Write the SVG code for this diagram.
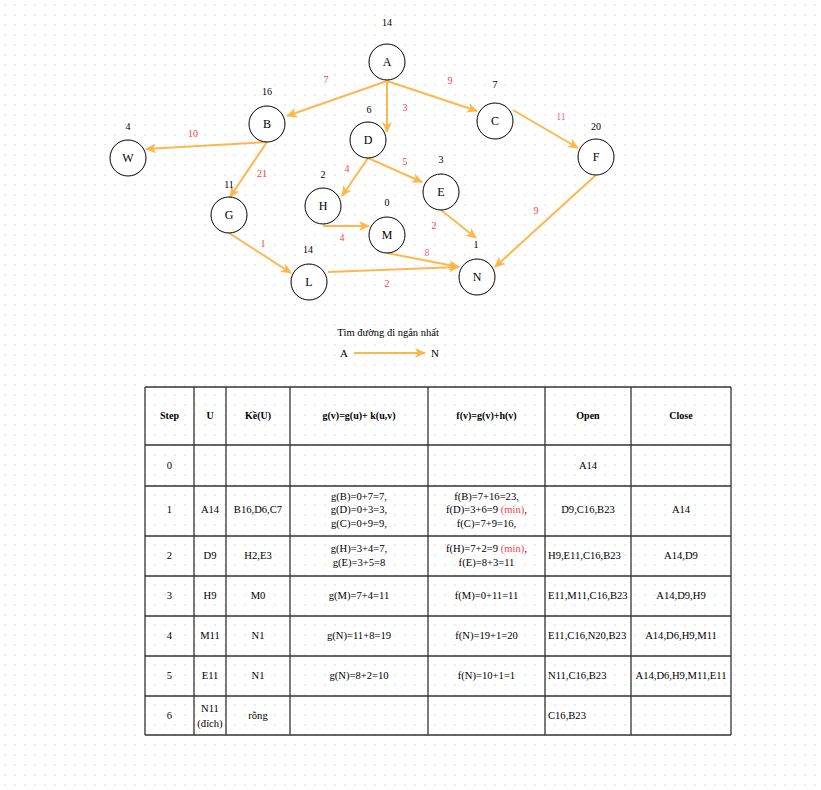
<svg xmlns="http://www.w3.org/2000/svg" width="821" height="790" viewBox="0 0 821 790">
<style>
text{font-family:"Liberation Serif","Times New Roman",serif;dominant-baseline:central;text-anchor:middle;}
.node circle{fill:#fff;stroke:#000;stroke-width:1;}
.node text{font-size:12px;fill:#000;}
.h{font-size:10px;fill:#000;}
.w{font-size:10px;fill:#ff3b3b;}
.edges path{fill:none;stroke:#ffb74d;stroke-width:2;}
.tb line{stroke:#333;stroke-width:1.3;}
.tb text{font-size:10.6px;fill:#000;}
.tb .hd{font-weight:bold;}
.tb .l{text-anchor:start;}
.red{fill:#ff3b3b;}
</style>
<defs>
<pattern id="grid" width="10" height="10" patternUnits="userSpaceOnUse">
<path d="M5,4 V6 M4,5 H6" stroke="#e4e4e4" stroke-width="1"/>
</pattern>
<marker id="arr" markerUnits="userSpaceOnUse" markerWidth="12" markerHeight="10" refX="10" refY="5" orient="auto">
<path d="M0,0 L11,5 L0,10 L3,5 Z" fill="#ffb74d"/>
</marker>
</defs>
<rect width="821" height="790" fill="#fff"/>
<rect width="821" height="790" fill="url(#grid)"/>

<g id="connectors" class="edges">
<path d="M387,81 L287,116" marker-end="url(#arr)"/>
<path d="M387,81 L387,132" marker-end="url(#arr)"/>
<path d="M387,81 L477,111" marker-end="url(#arr)"/>
<path d="M513,110 L578,148" marker-end="url(#arr)"/>
<path d="M267,142 L146,149" marker-end="url(#arr)"/>
<path d="M267,142 L230,197" marker-end="url(#arr)"/>
<path d="M368,158 L342,196" marker-end="url(#arr)"/>
<path d="M368,158 L422,182" marker-end="url(#arr)"/>
<path d="M441,210 L476,238" marker-end="url(#arr)"/>
<path d="M323,226 L369,226" marker-end="url(#arr)"/>
<path d="M387,253 L459,267" marker-end="url(#arr)"/>
<path d="M328,272 L459,267" marker-end="url(#arr)"/>
<path d="M596,175 L495,267" marker-end="url(#arr)"/>
<path d="M229,233 L291,273" marker-end="url(#arr)"/>
<path d="M354,353 L425,353" marker-end="url(#arr)"/>
</g>

<g id="edge-labels">
<text class="w" x="326" y="79">7</text>
<text class="w" x="405" y="107">3</text>
<text class="w" x="450" y="80">9</text>
<text class="w" x="193" y="133">10</text>
<text class="w" x="262" y="173">21</text>
<text class="w" x="347" y="168">4</text>
<text class="w" x="405" y="161">5</text>
<text class="w" x="561" y="116" style="fill:#ff5c8f">11</text>
<text class="w" x="536" y="210">9</text>
<text class="w" x="434" y="225">2</text>
<text class="w" x="342" y="237">4</text>
<text class="w" x="263" y="243">1</text>
<text class="w" x="427" y="252" style="fill:#ff6680">8</text>
<text class="w" x="387" y="283">2</text>
</g>

<g id="heuristics">
<text class="h" x="387" y="22">14</text>
<text class="h" x="267" y="91">16</text>
<text class="h" x="128" y="126">4</text>
<text class="h" x="369" y="109">6</text>
<text class="h" x="495" y="84">7</text>
<text class="h" x="596" y="126">20</text>
<text class="h" x="441" y="159">3</text>
<text class="h" x="229" y="184">11</text>
<text class="h" x="323" y="174">2</text>
<text class="h" x="387" y="202">0</text>
<text class="h" x="308" y="249">14</text>
<text class="h" x="476" y="244">1</text>
</g>

<g id="node-A" class="node"><circle cx="387" cy="62" r="18"/><text x="387" y="62">A</text></g>
<g id="node-B" class="node"><circle cx="267" cy="124" r="18"/><text x="267" y="124">B</text></g>
<g id="node-W" class="node"><circle cx="128" cy="158" r="18"/><text x="128" y="158">W</text></g>
<g id="node-D" class="node"><circle cx="368" cy="140" r="18"/><text x="368" y="140">D</text></g>
<g id="node-C" class="node"><circle cx="495" cy="121" r="18"/><text x="495" y="121">C</text></g>
<g id="node-F" class="node"><circle cx="596" cy="157" r="18"/><text x="596" y="157">F</text></g>
<g id="node-G" class="node"><circle cx="229" cy="215" r="18"/><text x="229" y="215">G</text></g>
<g id="node-H" class="node"><circle cx="323" cy="206" r="18"/><text x="323" y="206">H</text></g>
<g id="node-E" class="node"><circle cx="441" cy="192" r="18"/><text x="441" y="192">E</text></g>
<g id="node-M" class="node"><circle cx="387" cy="235" r="18"/><text x="387" y="235">M</text></g>
<g id="node-L" class="node"><circle cx="309" cy="282" r="18"/><text x="309" y="282">L</text></g>
<g id="node-N" class="node"><circle cx="477" cy="277" r="18"/><text x="477" y="277">N</text></g>

<g id="legend">
<text x="388" y="332" style="font-size:10.5px">Tìm đường đi ngắn nhất</text>
<text x="344" y="353" style="font-size:11px">A</text>
<text x="435" y="353" style="font-size:11px">N</text>
</g>

<g id="table" class="tb">
<line x1="145" y1="387" x2="731" y2="387"/>
<line x1="145" y1="445" x2="731" y2="445"/>
<line x1="145" y1="486" x2="731" y2="486"/>
<line x1="145" y1="536" x2="731" y2="536"/>
<line x1="145" y1="576" x2="731" y2="576"/>
<line x1="145" y1="616" x2="731" y2="616"/>
<line x1="145" y1="656" x2="731" y2="656"/>
<line x1="145" y1="696" x2="731" y2="696"/>
<line x1="145" y1="735" x2="731" y2="735"/>
<line x1="145" y1="387" x2="145" y2="735"/>
<line x1="194" y1="387" x2="194" y2="735"/>
<line x1="226" y1="387" x2="226" y2="735"/>
<line x1="290" y1="387" x2="290" y2="735"/>
<line x1="428" y1="387" x2="428" y2="735"/>
<line x1="545" y1="387" x2="545" y2="735"/>
<line x1="631" y1="387" x2="631" y2="735"/>
<line x1="731" y1="387" x2="731" y2="735"/>

<text class="hd" x="169.5" y="415" style="font-size:10px">Step</text>
<text class="hd" x="210" y="415" style="font-size:10px">U</text>
<text class="hd" x="258" y="415" style="font-size:10px">Kề(U)</text>
<text class="hd" x="359" y="415" style="font-size:10px">g(v)=g(u)+ k(u,v)</text>
<text class="hd" x="486.5" y="415" style="font-size:10px">f(v)=g(v)+h(v)</text>
<text class="hd" x="588" y="415" style="font-size:10px">Open</text>
<text class="hd" x="681" y="415" style="font-size:10px">Close</text>

<text x="169.5" y="465">0</text>
<text x="588" y="465">A14</text>

<text x="169.5" y="509">1</text>
<text x="210" y="509">A14</text>
<text x="258" y="509">B16,D6,C7</text>
<text x="359" y="496">g(B)=0+7=7,</text>
<text x="359" y="509">g(D)=0+3=3,</text>
<text x="359" y="523">g(C)=0+9=9,</text>
<text x="486.5" y="496">f(B)=7+16=23,</text>
<text x="486.5" y="509">f(D)=3+6=9 <tspan class="red">(min)</tspan>,</text>
<text x="486.5" y="523">f(C)=7+9=16,</text>
<text x="588" y="509">D9,C16,B23</text>
<text x="681" y="509">A14</text>

<text x="169.5" y="555">2</text>
<text x="210" y="555">D9</text>
<text x="258" y="555">H2,E3</text>
<text x="359" y="548">g(H)=3+4=7,</text>
<text x="359" y="562">g(E)=3+5=8</text>
<text x="486.5" y="548">f(H)=7+2=9 <tspan class="red">(min)</tspan>,</text>
<text x="486.5" y="562">f(E)=8+3=11</text>
<text class="l" x="548" y="555">H9,E11,C16,B23</text>
<text x="681" y="555">A14,D9</text>

<text x="169.5" y="595">3</text>
<text x="210" y="595">H9</text>
<text x="258" y="595">M0</text>
<text x="359" y="595">g(M)=7+4=11</text>
<text x="486.5" y="595">f(M)=0+11=11</text>
<text class="l" x="548" y="595">E11,M11,C16,B23</text>
<text x="681" y="595">A14,D9,H9</text>

<text x="169.5" y="635">4</text>
<text x="210" y="635">M11</text>
<text x="258" y="635">N1</text>
<text x="359" y="635">g(N)=11+8=19</text>
<text x="486.5" y="635">f(N)=19+1=20</text>
<text class="l" x="548" y="635">E11,C16,N20,B23</text>
<text x="681" y="635">A14,D6,H9,M11</text>

<text x="169.5" y="675">5</text>
<text x="210" y="675">E11</text>
<text x="258" y="675">N1</text>
<text x="359" y="675">g(N)=8+2=10</text>
<text x="486.5" y="675">f(N)=10+1=1</text>
<text class="l" x="548" y="675">N11,C16,B23</text>
<text x="681" y="675">A14,D6,H9,M11,E11</text>

<text x="169.5" y="715">6</text>
<text x="210" y="708">N11</text>
<text x="210" y="723">(đích)</text>
<text x="258" y="715">rỗng</text>
<text class="l" x="548" y="715">C16,B23</text>
</g>
</svg>
